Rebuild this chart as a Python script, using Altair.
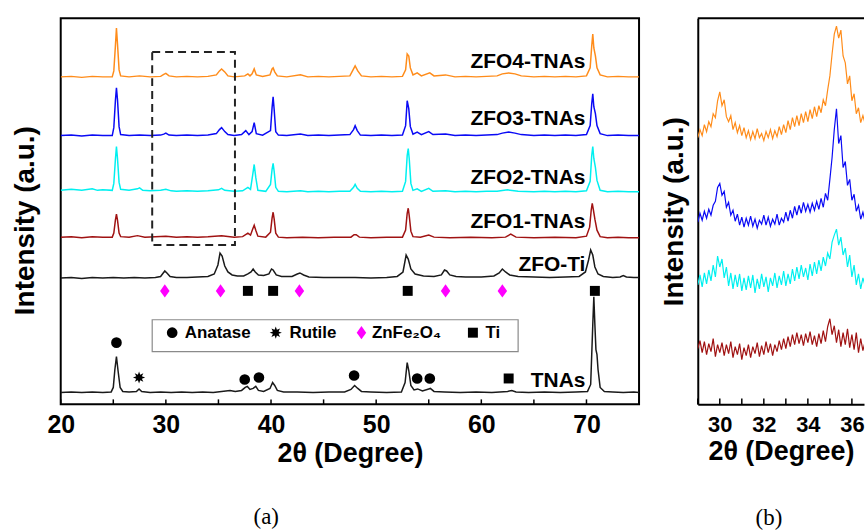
import math
import pandas as pd
import altair as alt

FONT = "Liberation Sans"
SERIF = "Liberation Serif"

# ---------------- Panel (a): XRD patterns, (2theta, intensity a.u.) ----------------
SERIES_A = ["ZFO4-TNAs", "ZFO3-TNAs", "ZFO2-TNAs", "ZFO1-TNAs", "ZFO-Ti", "TNAs"]
COLORS_A = ["#FF8C1A", "#0A0AF5", "#00F0F0", "#A01212", "#1A1A1A", "#1A1A1A"]
WIDTHS_A = [1.5, 1.5, 1.5, 1.5, 1.0, 1.0]

ZFO4_A = [(20,329),(21,329.5),(22,328.5),(23,329.5),(24,329),(24.9,329),(25.05,335),(25.2,360),(25.3,378),(25.4,362),(25.55,336),(25.7,330),(26.5,329),(27.5,330),(28.5,329),(29.5,329.5),(29.8,331.5),(30.0,332.5),(30.3,330),(31,329),(32,329.5),(33,329),(34,329.5),(34.8,331),(35.1,335),(35.3,337),(35.6,334),(35.9,330),(36.5,329),(37.5,330),(37.8,332),(38.0,330),(38.2,332),(38.4,337),(38.6,331),(39.2,329.5),(39.9,331),(40.1,337),(40.2,338),(40.35,334),(40.6,330),(41.5,329),(42.8,331),(43.5,329),(44.5,329.5),(45.5,329),(46.5,329.5),(47.5,330),(47.8,336),(48.0,340),(48.25,335),(48.6,330),(49.5,329),(50.5,329.5),(51.5,329),(52.5,329.5),(52.8,336),(52.95,352),(53.1,350),(53.25,338),(53.5,331),(53.9,333),(54.3,330),(55.1,333),(55.5,330),(56.6,331),(57.5,329),(58.5,329.5),(59.5,329),(60.5,329.5),(61.5,330),(62.0,332),(62.6,333),(63.2,332),(63.8,330),(65,329),(66,329.5),(67,329),(68,329.5),(69,329),(70.0,330),(70.35,338),(70.5,360),(70.6,372),(70.7,358),(70.85,350),(71.0,338),(71.3,331),(72,329),(73,329.5),(74,329),(75,329)]

ZFO3_A = [(20,270),(21,270.5),(22,269.5),(23,270.5),(24,270),(24.9,270),(25.05,278),(25.2,305),(25.3,318),(25.4,306),(25.55,279),(25.7,271),(26.5,270),(27.5,270.5),(28.5,270),(29.5,270.5),(29.8,271.5),(30.0,272.5),(30.3,270.5),(31,270),(32,270.5),(33,270),(34,270.5),(34.8,272),(35.1,276),(35.3,278),(35.6,274),(35.9,271),(36.5,270),(37.2,271),(37.6,275),(37.9,271),(38.2,274),(38.4,283),(38.6,272),(39.2,270.5),(39.95,275),(40.1,298),(40.2,309),(40.3,296),(40.45,274),(40.7,270.5),(41.5,270),(42.8,271.5),(43.5,270),(44.5,270.5),(45.5,270),(46.5,270.5),(47.5,271),(47.85,276),(48.0,280),(48.2,275),(48.5,270.5),(49.5,270),(50.5,270.5),(51.5,270),(52.5,270.5),(52.8,280),(52.95,305),(53.1,297),(53.25,279),(53.5,271.5),(53.9,273.5),(54.3,271),(55.0,274),(55.4,271),(56.6,271.5),(57.5,270),(58.5,270.5),(59.5,270),(60.5,270.5),(61.5,271),(62.0,272.5),(62.6,273.5),(63.2,272.5),(63.8,271),(65,270),(66,270.5),(67,270),(68,270.5),(69,270),(70.0,271),(70.35,280),(70.5,302),(70.6,312),(70.7,299),(70.85,292),(71.0,280),(71.3,272),(72,270),(73,270.5),(74,270),(75,270)]

ZFO2_A = [(20,215),(21,216),(22,215),(23,216.5),(23.5,215),(24,215.5),(24.9,215),(25.05,222),(25.2,246),(25.3,259),(25.4,247),(25.55,223),(25.7,216),(26.5,215),(27.3,216.5),(27.5,217.5),(27.8,215),(28.5,214.5),(29.5,215),(30.0,216),(30.5,214.5),(31,214),(32,214.5),(33,214),(34,214.5),(35.0,215.5),(35.3,217),(35.6,215),(36.5,214),(37.3,214.5),(37.8,218),(38.05,216),(38.25,230),(38.4,241),(38.55,228),(38.75,215),(39.5,214),(39.95,221),(40.1,236),(40.2,242),(40.3,234),(40.45,218),(40.7,214),(41.5,213.5),(42.8,214.5),(43.5,213.5),(44.5,214),(45.5,213.5),(46.5,214),(47.5,214),(47.85,218),(48.0,221),(48.2,217),(48.5,214),(49.5,213.5),(50.5,214),(51.5,213.5),(52.5,214),(52.8,224),(52.95,250),(53.05,257),(53.15,246),(53.3,222),(53.5,215),(53.9,216.5),(54.3,214),(55.0,217),(55.4,214),(56.6,214.5),(57.5,213.5),(58.5,214),(59.5,213.5),(60.5,214),(61.5,214),(62.5,215.5),(63.5,214),(65,213.5),(66,214),(67,213.5),(68,214),(69,213.5),(70.0,214.5),(70.35,224),(70.5,250),(70.6,259),(70.7,247),(70.85,238),(71.0,225),(71.3,215),(72,213.5),(73,214),(74,213.5),(75,213.5)]

ZFO1_A = [(20,168),(21,168.5),(22,167.5),(23,168.5),(24,168),(24.9,168),(25.05,172),(25.2,185),(25.3,191),(25.4,185),(25.55,172),(25.7,168.5),(26.5,168),(27.3,169.5),(28,168),(29,168.5),(30,169),(31,168),(32,168.5),(33,168),(34,168.5),(35.3,169.5),(36.5,168),(37.3,168.5),(37.8,172),(38.05,170),(38.25,176),(38.4,180),(38.55,175),(38.75,169),(39.5,168),(39.95,173),(40.1,187),(40.2,193),(40.3,186),(40.45,172),(40.7,168),(41.5,167.5),(43,168),(44.5,167.5),(46,168),(47.6,168),(47.9,170.5),(48.1,170.5),(48.4,168),(49.5,167.5),(51,168),(52.5,168),(52.8,175),(52.95,192),(53.05,197),(53.15,189),(53.3,174),(53.5,168.5),(54.2,168),(55.0,170),(55.5,168),(57,167.5),(59,168),(61,167.5),(62.3,168),(62.8,171),(63.3,168),(65,167.5),(67,168),(69,167.5),(70.0,169),(70.3,178),(70.45,195),(70.55,202),(70.65,196),(70.8,186),(71.0,175),(71.3,168.5),(72,167.5),(73,168),(74,167.5),(75,167.5)]

ZFOTI_A = [(20,127),(21,127.5),(22,126.5),(23,127.5),(24,127),(25,127.5),(26,127),(27,127.5),(28,127),(29,127.5),(29.5,128.5),(29.75,132),(29.9,134),(30.1,132),(30.4,128.5),(31,127.5),(32,127.5),(33,128),(34,128.5),(34.6,131),(34.95,140),(35.15,152),(35.35,149),(35.6,139),(35.9,133),(36.3,130),(36.8,129),(37.4,129),(37.8,131),(38.1,133),(38.3,136),(38.5,133),(38.8,130),(39.3,129.5),(39.8,131),(40.05,136),(40.2,135),(40.5,130),(41,128.5),(42,128.5),(42.5,131),(42.75,132),(43.1,130),(43.6,128),(45,127.5),(46.5,127.5),(48,127.5),(49.5,127),(51,127.5),(52,128.5),(52.55,133),(52.85,150),(53.05,146),(53.3,136),(53.7,131),(54.5,129),(55.5,128.5),(56.2,130),(56.5,135),(56.7,134),(57.0,130),(57.6,128.5),(58.5,128),(60,128),(61.2,129),(61.7,132),(62.0,136),(62.3,133),(62.7,130),(63.5,128.5),(65,128),(66.5,127.5),(68,128),(69.3,128.5),(69.9,133),(70.2,145),(70.4,155),(70.6,150),(70.8,138),(71.1,131),(71.6,128.5),(72.5,127.5),(73.2,128),(73.5,129.5),(73.8,128),(74.5,127.5),(75,127.5)]

TNAS_A = [(20,12),(21,12.5),(22,12),(23,12.5),(24,12),(24.8,12.5),(25.0,17),(25.15,35),(25.3,48),(25.45,34),(25.65,17),(25.9,13),(26.5,12.5),(27.2,13),(27.45,15.5),(27.7,13),(28.5,12),(29.5,12.5),(30.5,12),(31.5,12.5),(32.5,12),(33.5,12.5),(34.5,12),(35.3,13),(36.1,14),(36.6,13),(37.2,14),(37.55,17),(37.75,18),(38.0,15),(38.3,16),(38.55,18),(38.8,14),(39.3,13),(39.9,16),(40.15,22),(40.35,19),(40.6,14),(41.2,12.5),(42.5,12.5),(44,12),(45.5,12.5),(47,12.5),(47.6,15),(47.95,19),(48.25,16),(48.6,13),(49.5,12.5),(51,12),(52.4,12.5),(52.75,22),(52.95,42),(53.1,34),(53.3,19),(53.6,14.5),(53.95,15.5),(54.4,13.5),(55.0,15.5),(55.15,16),(55.5,13),(56.5,12.5),(58,12),(59.5,12.5),(61,12),(62.5,13),(62.9,14),(63.3,12.5),(64.5,12),(66,12.5),(67.5,12),(69,12.5),(70.1,13),(70.4,20),(70.6,80),(70.7,108),(70.8,80),(70.9,55),(71.0,50),(71.1,35),(71.3,17),(71.7,13),(72.5,12.5),(73.5,12),(74.5,12.5),(75,12)]

TRACES_A = [ZFO4_A, ZFO3_A, ZFO2_A, ZFO1_A, ZFOTI_A, TNAS_A]

LABEL_X = 69.9
LABEL_Y = [344, 287, 227, 183, 140, 23]

# phase markers
PHASES = ["Anatase", "Rutile", "ZnFe2O4", "Ti"]
ZFOTI_DIAMOND_X = [29.9, 35.2, 42.7, 56.6, 62.0]
ZFOTI_TI_X = [37.8, 40.2, 53.0, 70.8]
ZFOTI_MARK_Y = 114
TNAS_ANATASE_X = [25.3, 37.5, 38.85, 47.9, 53.9, 55.1]
TNAS_ANATASE_Y = [62, 25, 27, 29, 26, 26]
TNAS_RUTILE_X = [27.45]
TNAS_RUTILE_Y = [27]
TNAS_TI_X = [62.6]
TNAS_TI_Y = [26]

# legend box & zoom box (data coordinates)
LEGEND_BOX = [28.7, 63.5, 53, 85]
LEGEND_SYMBOL_X = [30.6, 40.45, 48.6, 59.2]
LEGEND_TEXT_X = [31.8, 41.75, 49.6, 60.4]
LEGEND_TEXT = ["Anatase", "Rutile", "ZnFe₂O₄", "Ti"]
LEGEND_Y = 72
ZOOM_BOX = [28.7, 36.57, 160, 354]

X_TICKS_A = [20, 25, 30, 35, 40, 45, 50, 55, 60, 65, 70, 75]
X_LABELS_A = [20, 30, 40, 50, 60, 70]

# ---------------- Panel (b): zoom 29-36.6 deg, step 0.1 ----------------
SERIES_B = ["ZFO4-TNAs", "ZFO3-TNAs", "ZFO2-TNAs", "ZFO1-TNAs"]
COLORS_B = ["#FF8C1A", "#0A0AF5", "#00F0F0", "#A01212"]
B_START = 29.0
ZFO4_B = [268,276,270,281,274,284,279,292,288,305,314,300,306,289,284,290,276,283,273,280,
          270,278,268,275,266,274,267,277,268,272,265,274,268,276,267,275,269,279,271,281,
          273,285,276,288,279,290,280,292,283,294,284,296,287,299,289,300,293,306,300,316,
          330,352,372,380,368,376,350,343,322,330,305,312,292,298,283,290,282]
ZFO3_B = [183,192,185,194,187,196,190,200,204,218,222,210,214,198,203,190,195,184,191,180,
          188,178,187,180,189,179,186,177,185,181,190,180,188,179,186,181,191,180,187,183,
          193,184,195,187,199,190,200,192,203,194,201,193,202,195,204,196,207,198,212,205,
          226,248,276,297,262,270,238,244,220,226,205,211,194,200,186,193,184]
ZFO2_B = [120,130,118,132,121,135,124,140,128,149,138,146,127,138,119,132,116,130,118,131,
          114,127,115,129,117,130,112,126,116,131,118,128,113,127,119,132,117,129,120,134,
          119,131,121,136,124,138,126,140,128,137,125,141,129,143,131,145,134,148,139,152,
          146,163,170,176,160,168,150,157,138,150,128,140,120,131,116,127,119]
ZFO1_B = [56,64,52,63,50,61,53,66,48,60,52,62,49,60,51,63,47,58,50,61,
          45,57,49,60,47,58,51,62,48,59,50,63,52,61,49,60,53,64,55,66,
          56,68,58,70,60,72,61,70,59,71,62,73,60,69,58,71,61,74,63,78,
          86,70,79,62,75,58,72,60,76,57,70,55,72,52,66,54,63]
TRACES_B = [ZFO4_B, ZFO3_B, ZFO2_B, ZFO1_B]
X_TICKS_B = [29, 30, 31, 32, 33, 34, 35, 36]
X_LABELS_B = [30, 32, 34, 36]

# ---------------- styles ----------------
W_A, H = 581, 388
W_B = 167
Y_DOMAIN = [0, 388]

star_pts = []
for k in range(16):
    ang = k * math.pi / 8 - math.pi / 2
    r = 1.0 if k % 2 == 0 else 0.5
    star_pts.append(f"{r*math.cos(ang):.3f},{r*math.sin(ang):.3f}")
STAR = "M" + "L".join(star_pts) + "Z"
DIAMOND = "M0,-1L0.72,0L0,1L-0.72,0Z"
PHASE_STYLE = {
    "Anatase": ("circle", "black", 115),
    "Rutile": (STAR, "black", 150),
    "ZnFe2O4": (DIAMOND, "#FF00FF", 175),
    "Ti": ("square", "black", 100),
}

# ---------------- data frames ----------------
rows = []
for name, pts in zip(SERIES_A, TRACES_A):
    for x, y in pts:
        rows.append({"s": name, "x": x, "y": y})
df_a = pd.DataFrame(rows)

mrows = []
for x in ZFOTI_DIAMOND_X:
    mrows.append({"phase": "ZnFe2O4", "x": x, "y": ZFOTI_MARK_Y})
for x in ZFOTI_TI_X:
    mrows.append({"phase": "Ti", "x": x, "y": ZFOTI_MARK_Y})
for x, y in zip(TNAS_ANATASE_X, TNAS_ANATASE_Y):
    mrows.append({"phase": "Anatase", "x": x, "y": y})
for x, y in zip(TNAS_RUTILE_X, TNAS_RUTILE_Y):
    mrows.append({"phase": "Rutile", "x": x, "y": y})
for x, y in zip(TNAS_TI_X, TNAS_TI_Y):
    mrows.append({"phase": "Ti", "x": x, "y": y})
for p, x in zip(PHASES, LEGEND_SYMBOL_X):
    mrows.append({"phase": p, "x": x, "y": LEGEND_Y})
df_m = pd.DataFrame(mrows)

df_legtext = pd.DataFrame({"x": LEGEND_TEXT_X, "y": [LEGEND_Y] * 4, "t": LEGEND_TEXT})
df_labels = pd.DataFrame({"x": [LABEL_X] * 6, "y": LABEL_Y, "t": SERIES_A})
df_box = pd.DataFrame([{"x": LEGEND_BOX[0], "x2": LEGEND_BOX[1], "y": LEGEND_BOX[2], "y2": LEGEND_BOX[3]}])
df_zoom = pd.DataFrame([{"x": ZOOM_BOX[0], "x2": ZOOM_BOX[1], "y": ZOOM_BOX[2], "y2": ZOOM_BOX[3]}])
df_ticks_a = pd.DataFrame({"x": X_TICKS_A})

brows = []
for name, vals in zip(SERIES_B, TRACES_B):
    for i, v in enumerate(vals):
        brows.append({"s": name, "x": round(B_START + 0.1 * i, 1), "y": v})
df_b = pd.DataFrame(brows)
df_ticks_b = pd.DataFrame({"x": X_TICKS_B})

# ---------------- encodings ----------------
def xa():
    return alt.X("x:Q", scale=alt.Scale(domain=[20, 75], nice=False, zero=False),
                 axis=alt.Axis(values=X_LABELS_A, format="d", ticks=False, domain=False, grid=False,
                               labelFontSize=25, labelPadding=8, labelFlush=False,
                               title="2θ (Degree)", titlePadding=3))

def ya():
    return alt.Y("y:Q", scale=alt.Scale(domain=Y_DOMAIN, nice=False, zero=False),
                 axis=alt.Axis(labels=False, ticks=False, domain=False, grid=False,
                               title="Intensity (a.u.)", titlePadding=21, titleFontSize=28,
                               titleY=203))

def xb():
    return alt.X("x:Q", scale=alt.Scale(domain=[29, 36.55], nice=False, zero=False),
                 axis=alt.Axis(values=X_LABELS_B, format="d", ticks=False, domain=True,
                               domainColor="black", domainWidth=2, grid=False,
                               labelFontSize=22, labelPadding=10, labelFlush=False,
                               title="2θ (Degree)", titlePadding=3))

def yb():
    return alt.Y("y:Q", scale=alt.Scale(domain=Y_DOMAIN, nice=False, zero=False),
                 axis=alt.Axis(labels=False, ticks=False, domain=True, domainColor="black",
                               domainWidth=2, grid=False, title="Intensity (a.u.)", titlePadding=9,
                               titleFontSize=28))

# ---------------- panel (a) ----------------
lines_a = alt.Chart(df_a).mark_line(clip=True).encode(
    x=xa(), y=ya(),
    color=alt.Color("s:N", scale=alt.Scale(domain=SERIES_A, range=COLORS_A), legend=None),
    strokeWidth=alt.StrokeWidth("s:N", scale=alt.Scale(domain=SERIES_A, range=WIDTHS_A), legend=None),
    detail="s:N",
)

zoom_rect = alt.Chart(df_zoom).mark_rect(fill="transparent", stroke="#222222", strokeWidth=2,
                                         strokeDash=[8, 5]).encode(x=xa(), x2="x2:Q", y=ya(), y2="y2:Q")
legend_rect = alt.Chart(df_box).mark_rect(fill="white", stroke="#8a8a8a", strokeWidth=1.2).encode(
    x=xa(), x2="x2:Q", y=ya(), y2="y2:Q")

marker_layers = []
for p in PHASES:
    shp, col, size = PHASE_STYLE[p]
    marker_layers.append(
        alt.Chart(df_m[df_m["phase"] == p]).mark_point(shape=shp, filled=True, fill=col, color=col,
                                                       size=size, opacity=1, strokeWidth=0)
        .encode(x=xa(), y=ya())
    )

legend_text = alt.Chart(df_legtext).mark_text(align="left", baseline="middle", font=FONT,
                                              fontWeight="bold", fontSize=17, color="black").encode(
    x=xa(), y=ya(), text="t:N")
labels = alt.Chart(df_labels).mark_text(align="right", baseline="middle", font=FONT,
                                        fontWeight="bold", fontSize=21, color="black").encode(
    x=xa(), y=ya(), text="t:N")
ticks_a = alt.Chart(df_ticks_a).mark_rule(color="black", strokeWidth=1.5).encode(
    x=xa(), y=alt.value(H), y2=alt.value(H - 5))

panel_a = alt.layer(lines_a, zoom_rect, legend_rect, *marker_layers, legend_text, labels, ticks_a).properties(
    width=W_A, height=H,
    view=alt.ViewBackground(stroke="black", strokeWidth=2),
    title=alt.TitleParams("(a)", orient="bottom", anchor="middle", dx=-84, offset=40,
                          font=SERIF, fontSize=23, fontWeight="normal", color="black"),
)

# ---------------- panel (b) ----------------
lines_b = alt.Chart(df_b).mark_line(clip=True, strokeWidth=1.2).encode(
    x=xb(), y=yb(),
    color=alt.Color("s:N", scale=alt.Scale(domain=SERIES_B, range=COLORS_B), legend=None),
    detail="s:N",
)
ticks_b = alt.Chart(df_ticks_b).mark_rule(color="black", strokeWidth=1.5).encode(
    x=xb(), y=alt.value(H), y2=alt.value(H - 6))
top_b = alt.Chart(pd.DataFrame({"k": [0]})).mark_rule(color="black", strokeWidth=2).encode(
    x=alt.value(0), x2=alt.value(W_B), y=alt.value(0))

panel_b = alt.layer(lines_b, ticks_b, top_b).properties(
    width=W_B, height=H,
    view=alt.ViewBackground(stroke="transparent", strokeWidth=0),
    title=alt.TitleParams("(b)", orient="bottom", anchor="middle", dx=-12, offset=43,
                          font=SERIF, fontSize=23, fontWeight="normal", color="black"),
)

chart = alt.hconcat(panel_a, panel_b, spacing=20).properties(
    padding={"left": 11, "top": 16, "right": 0, "bottom": 0},
    background="white",
).configure_view(strokeWidth=0).configure_axis(
    labelFont=FONT, labelFontWeight="bold", labelColor="black",
    titleFont=FONT, titleFontWeight="bold", titleFontSize=27, titleColor="black",
)

chart.save("out.html", embed_options={"renderer": "svg", "actions": False})
